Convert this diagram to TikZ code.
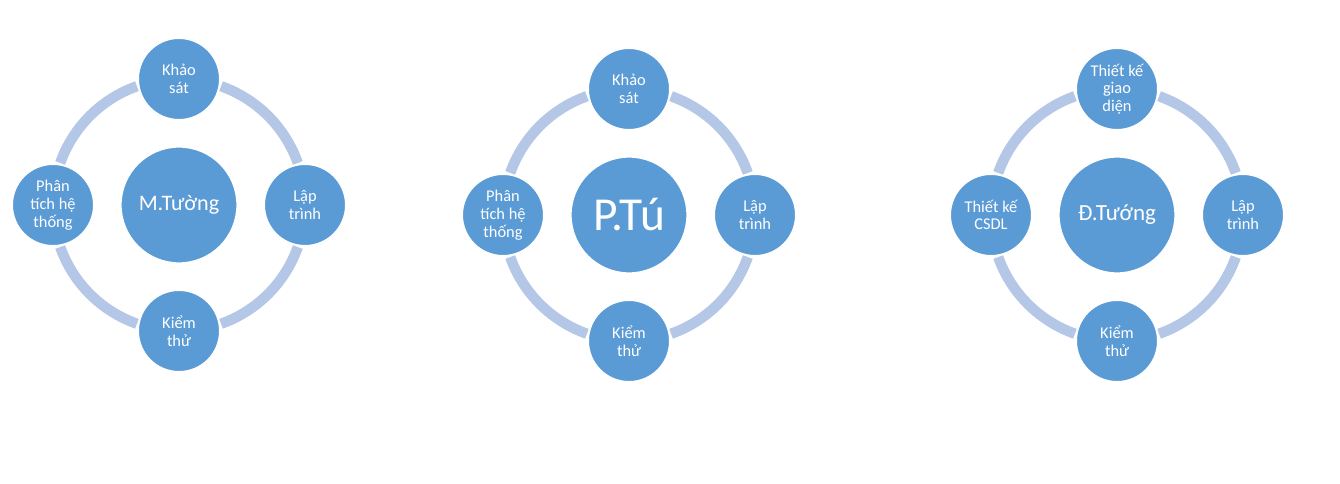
\documentclass[tikz,border=0pt]{standalone}
\usepackage{fontspec}
\setmainfont{Carlito}
\definecolor{nodeblue}{RGB}{91,155,213}
\definecolor{ringblue}{RGB}{180,199,231}
\tikzset{
  sat/.style={circle, fill=nodeblue, draw=white, line width=1pt, minimum size=61pt, inner sep=0pt, align=center, text=white, font=\fontsize{12.3pt}{13.3pt}\selectfont},
  hub/.style={circle, fill=nodeblue, draw=white, line width=1pt, minimum size=87pt, inner sep=0pt, align=center, text=white},
  ring/.style={draw=ringblue, line width=7.8pt}
}
\newcommand{\ringarcs}[1]{%
  \foreach \a in {0,90,180,270}{
    \draw[ring] (#1) ++(\a+19.5:94.5pt) arc[start angle=\a+19.5, end angle=\a+70.5, radius=94.5pt];
  }%
}
\begin{document}
\begin{tikzpicture}[x=0.75pt,y=-0.75pt]
\useasboundingbox (0,0) rectangle (1340,484);
% diagram 1
\coordinate (c1) at (179,205);
\ringarcs{c1}
\node[hub, font=\fontsize{16.6pt}{19pt}\selectfont] (h1) at (c1) {M.Tường};
\node[sat] (t1) at (179,79) {Khảo\\sát};
\node[sat] (r1) at (305,205) {Lập\\trình};
\node[sat] (b1) at (179,331) {Kiểm\\thử};
\node[sat] (l1) at (53,205) {Phân\\tích hệ\\thống};
% diagram 2
\coordinate (c2) at (629,215);
\ringarcs{c2}
\node[hub, font=\fontsize{35.5pt}{40pt}\selectfont] (h2) at (c2) {P.Tú};
\node[sat] (t2) at (629,89) {Khảo\\sát};
\node[sat] (r2) at (755,215) {Lập\\trình};
\node[sat] (b2) at (629,341) {Kiểm\\thử};
\node[sat] (l2) at (503,215) {Phân\\tích hệ\\thống};
% diagram 3
\coordinate (c3) at (1117,215);
\ringarcs{c3}
\node[hub, font=\fontsize{17.3pt}{20pt}\selectfont] (h3) at (c3) {Đ.Tướng};
\node[sat] (t3) at (1117,89) {Thiết kế\\giao\\diện};
\node[sat] (r3) at (1243,215) {Lập\\trình};
\node[sat] (b3) at (1117,341) {Kiểm\\thử};
\node[sat] (l3) at (991,215) {Thiết kế\\CSDL};
\end{tikzpicture}
\end{document}
